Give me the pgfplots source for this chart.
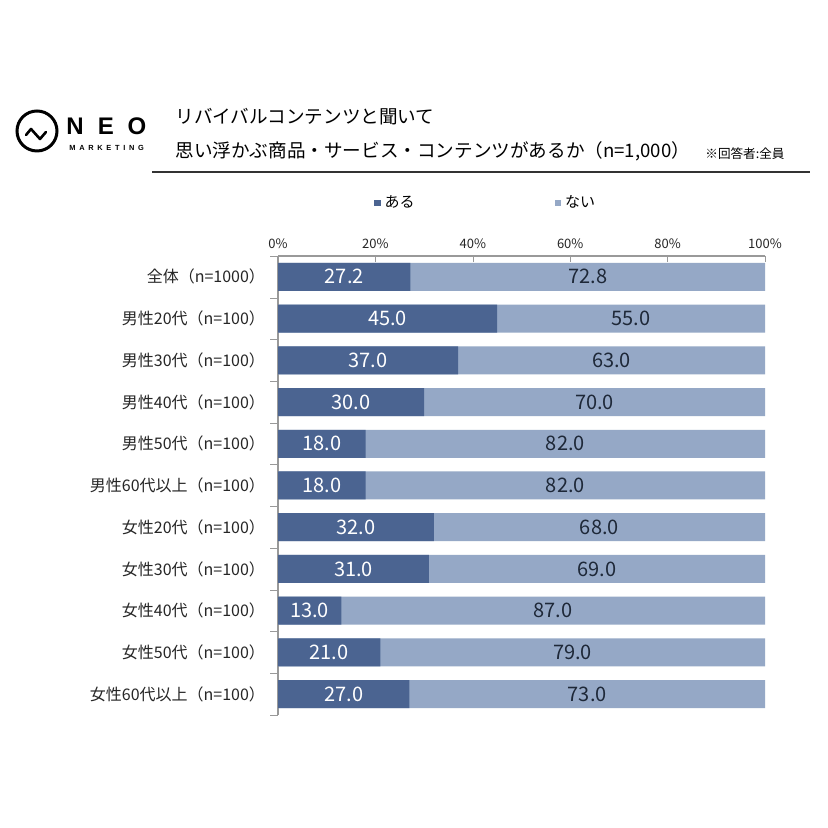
\documentclass[border=0pt]{standalone}
\usepackage{pgfplots}
\pgfplotsset{compat=1.18}
\usepackage{pgfplotstable}
\usepackage{fontspec}
\setmainfont{Noto Sans CJK JP}
\newfontfamily\logofont{Liberation Sans}
\definecolor{darkbar}{HTML}{4B6491}
\definecolor{lightbar}{HTML}{95A8C6}
\definecolor{lbltext}{HTML}{1E2838}

\pgfplotstableread{
idx a b
0 27.2 72.8
1 45.0 55.0
2 37.0 63.0
3 30.0 70.0
4 18.0 82.0
5 18.0 82.0
6 32.0 68.0
7 31.0 69.0
8 13.0 87.0
9 21.0 79.0
10 27.0 73.0
}\data

\begin{document}
\begin{tikzpicture}
\path[use as bounding box, fill=white] (0,0) rectangle (414pt,414pt);
% logo
\draw[line width=1.5pt] (18.5pt,348.5pt) circle (10pt);
\draw[line width=1.3pt, line join=round, line cap=round] (13pt,346.5pt) -- (15.5pt,349.5pt) -- (20pt,344.5pt) -- (23pt,348pt);
\node[font=\logofont\bfseries\fontsize{12}{12}\selectfont, inner sep=0] at (37.5pt,351pt) {N};
\node[font=\logofont\bfseries\fontsize{12}{12}\selectfont, inner sep=0] at (53pt,351pt) {E};
\node[font=\logofont\bfseries\fontsize{12}{12}\selectfont, inner sep=0] at (68.5pt,351pt) {O};
\node[anchor=west, inner sep=0, font=\logofont\bfseries\fontsize{3.7}{4}\selectfont\addfontfeature{LetterSpace=50}] at (34.5pt,340pt) {MARKETING};
% title
\node[anchor=west, inner sep=0, font=\fontsize{9.3}{10}\selectfont] at (87.5pt,355.5pt) {リバイバルコンテンツと聞いて};
\node[anchor=west, inner sep=0, font=\fontsize{9.3}{10}\selectfont] at (87.5pt,338.5pt) {思い浮かぶ商品・サービス・コンテンツがあるか（n=1,000）};
\node[anchor=west, inner sep=0, font=\fontsize{6.3}{7}\selectfont] at (352.5pt,337pt) {※回答者:全員};
\draw[line width=1pt, black!80] (76pt,328pt) -- (405pt,328pt);

\begin{axis}[
  at={(139pt,56.5pt)}, anchor=south west,
  width=243.5pt, height=229.5pt, scale only axis,
  xmin=0, xmax=100, ymin=-0.5, ymax=10.5,
  axis x line*=top, axis y line*=left,
  axis line style={draw=gray!80, line width=0.6pt},
  xtick={0,20,...,100},
  xticklabels={0\%,20\%,40\%,60\%,80\%,100\%},
  xticklabel style={font=\fontsize{6.5}{7}\selectfont, text=black!85},
  ytick={0,...,10},
  yticklabels={女性60代以上（n=100）,女性50代（n=100）,女性40代（n=100）,女性30代（n=100）,女性20代（n=100）,男性60代以上（n=100）,男性50代（n=100）,男性40代（n=100）,男性30代（n=100）,男性20代（n=100）,全体（n=1000）},
  yticklabel style={font=\fontsize{8}{9}\selectfont, text=black!85, xshift=-3pt},
  tick align=inside,
  major tick length=3pt, minor tick length=4pt,
  minor ytick={-0.5,0.5,...,10.5},
  every major y tick/.append style={draw=none},
  every minor y tick/.append style={xshift=-4pt, draw=gray!80},
  every major x tick/.append style={draw=gray!80},
  legend image code/.code={\fill[#1] (0pt,-1.6pt) rectangle (3.2pt,1.6pt);},
  legend style={at={(axis description cs:0.197,1.115)}, anchor=west, draw=none, fill=none,
    font=\fontsize{7.5}{8}\selectfont, inner sep=0pt,
    /tikz/every even column/.append style={column sep=68pt}},
  legend columns=2,
  clip=false,
]
\addplot[xbar, bar width=14pt, bar shift=0pt, fill=lightbar, draw=none, forget plot]
  table[x expr=\thisrow{a}+\thisrow{b}, y expr=10-\thisrow{idx}] {\data};
\addplot[xbar, bar width=14pt, bar shift=0pt, fill=darkbar, draw=none]
  table[x=a, y expr=10-\thisrow{idx}] {\data};
\addlegendentry{ある}
\addlegendimage{fill=lightbar, draw=none}
\addlegendentry{ない}

\addplot[only marks, mark=*, mark size=0.1pt, mark options={draw opacity=0, fill opacity=0}, forget plot,
  point meta=explicit,
  nodes near coords={\pgfmathprintnumber[fixed,fixed zerofill,precision=1,assume math mode=true]{\pgfplotspointmeta}},
  nodes near coords style={anchor=center, text=white, opacity=1, text opacity=1, fill opacity=1, font=\fontsize{10}{10}\selectfont}]
  table[x expr=\thisrow{a}/2, y expr=10-\thisrow{idx}, meta=a] {\data};
\addplot[only marks, mark=*, mark size=0.1pt, mark options={draw opacity=0, fill opacity=0}, forget plot,
  point meta=explicit,
  nodes near coords={\pgfmathprintnumber[fixed,fixed zerofill,precision=1,assume math mode=true]{\pgfplotspointmeta}},
  nodes near coords style={anchor=center, text=lbltext, opacity=1, text opacity=1, fill opacity=1, font=\fontsize{10}{10}\selectfont}]
  table[x expr=\thisrow{a}+\thisrow{b}/2, y expr=10-\thisrow{idx}, meta=b] {\data};
\end{axis}
\end{tikzpicture}
\end{document}
